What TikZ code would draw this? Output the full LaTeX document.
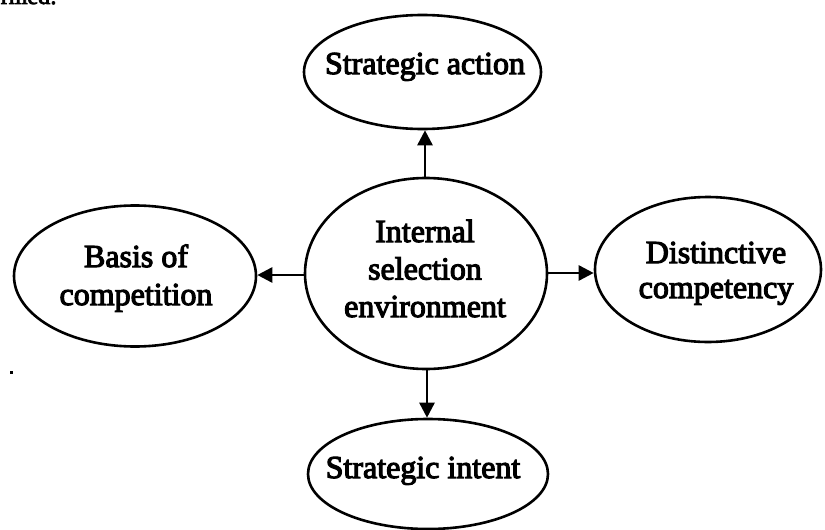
\documentclass[tikz,border=0pt]{standalone}
\usepackage{fontspec}
\setmainfont{Liberation Serif}[FakeBold=3.5]
\usetikzlibrary{shapes.geometric,arrows.meta}
\begin{document}
\begin{tikzpicture}[x=1pt,y=-1pt,
  bubble/.style={draw, ellipse, line width=2.6pt, inner sep=0pt},
  caption/.style={anchor=base, inner sep=0pt, font=\fontsize{32}{37}\selectfont},
  link/.style={line width=2.6pt, -{Triangle[length=15pt,width=15pt]}}]
\useasboundingbox (0,0) rectangle (825,530);

% running text cut off at the top edge
\node[anchor=base east, inner sep=0pt, font=\fontsize{24}{28}\selectfont] (runon) at (57,4) {rmed:};
\fill (10,371) rectangle (12.5,373.5);

% ellipses
\node[bubble, minimum width=237pt, minimum height=114pt] (action) at (422.5,72) {};
\node[bubble, minimum width=242pt, minimum height=141pt] (basis) at (135,276) {};
\node[bubble, minimum width=242pt, minimum height=191pt] (env) at (426,273.5) {};
\node[bubble, minimum width=226pt, minimum height=145pt] (compet) at (708,269.5) {};
\node[bubble, minimum width=240pt, minimum height=110pt] (intent) at (428,474) {};

% labels
\node[caption] (actionT) at (425,74) {Strategic action};
\node[caption, font=\fontsize{32}{38}\selectfont] (basisT) at (136,267)
  {\begin{tabular}[t]{@{}c@{}}Basis of\\competition\end{tabular}};
\node[caption, font=\fontsize{32}{37.5}\selectfont] (envT) at (425,242)
  {\begin{tabular}[t]{@{}c@{}}Internal\\selection\\environment\end{tabular}};
\node[caption, font=\fontsize{32}{35}\selectfont] (competT) at (716,263)
  {\begin{tabular}[t]{@{}c@{}}Distinctive\\competency\end{tabular}};
\node[caption] (intentT) at (423,478) {Strategic intent};

% connectors
\draw[link] (env.north -| 425,0) -- (action.south -| 425,0);
\draw[link] (env.west |- 0,275) -- (basis.east |- 0,275);
\draw[link] (env.east |- 0,273) -- (compet.west |- 0,273);
\draw[link] (env.south -| 427,0) -- (intent.north -| 427,0);
\end{tikzpicture}
\end{document}
